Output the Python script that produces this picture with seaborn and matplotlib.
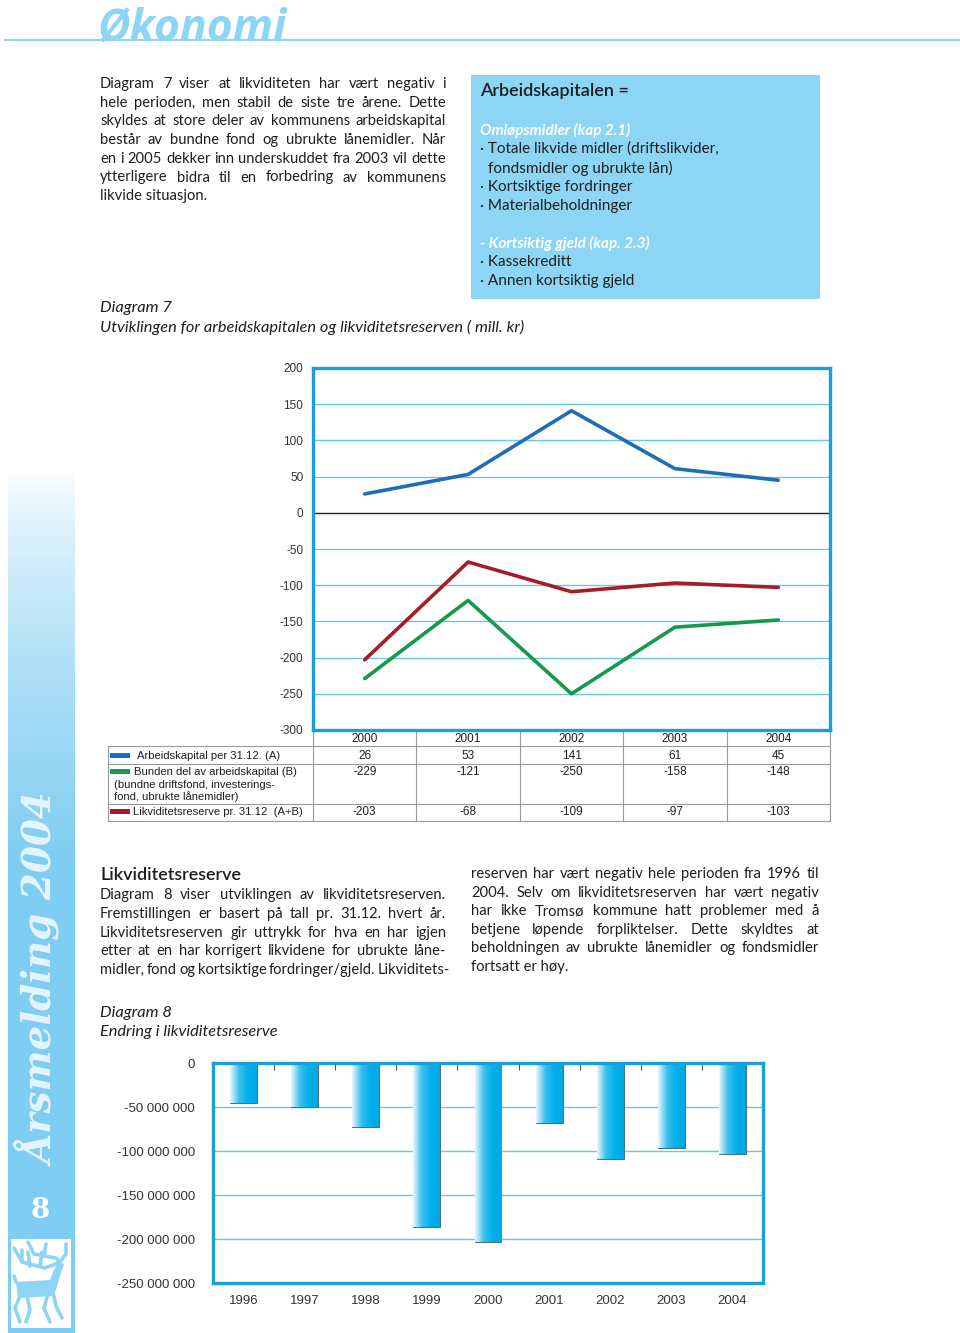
import matplotlib
matplotlib.use("Agg")
import matplotlib.pyplot as plt
import numpy as np
import pandas as pd
import seaborn as sns
from matplotlib.colors import LinearSegmentedColormap, to_rgb
from matplotlib.patches import Rectangle, Polygon
from matplotlib.ticker import FuncFormatter

# --- data --------------------------------------------------------------
years_7 = ["2000", "2001", "2002", "2003", "2004"]
arbeidskapital = [26, 53, 141, 61, 45]
bunden_del = [-229, -121, -250, -158, -148]
likviditetsreserve = [-203, -68, -109, -97, -103]
series_names = ["Arbeidskapital", "Bunden del", "Likviditetsreserve"]
series_colors = ["#1f6db3", "#17994b", "#a51d26"]
row_labels = [
    ["Arbeidskapital per 31.12. (A)"],
    ["Bunden del av arbeidskapital (B)", "(bundne driftsfond, investerings-", "fond, ubrukte lånemidler)"],
    ["Likviditetsreserve pr. 31.12  (A+B)"],
]

years_8 = ["1996", "1997", "1998", "1999", "2000", "2001", "2002", "2003", "2004"]
reserve_8 = [-46e6, -50e6, -73e6, -186e6, -203e6, -68e6, -109e6, -97e6, -103e6]

para_top = [
    "Diagram 7 viser at likviditeten har vært negativ i",
    "hele perioden, men stabil de siste tre årene. Dette",
    "skyldes at store deler av kommunens arbeidskapital",
    "består av bundne fond og ubrukte lånemidler. Når",
    "en i 2005 dekker inn underskuddet fra 2003 vil dette",
    "ytterligere bidra til en forbedring av kommunens",
    "likvide situasjon.",
]
para_left = [
    "Diagram 8 viser utviklingen av likviditetsreserven.",
    "Fremstillingen er basert på tall pr. 31.12. hvert år.",
    "Likviditetsreserven gir uttrykk for hva en har igjen",
    "etter at en har korrigert likvidene for ubrukte låne-",
    "midler, fond og kortsiktige fordringer/gjeld. Likviditets-",
]
para_right = [
    "reserven har vært negativ hele perioden fra 1996 til",
    "2004. Selv om likviditetsreserven har vært negativ",
    "har ikke Tromsø kommune hatt problemer med å",
    "betjene løpende forpliktelser. Dette skyldtes at",
    "beholdningen av ubrukte lånemidler og fondsmidler",
    "fortsatt er høy.",
]

W, H = 960, 1333
LIGHT = "#8dd5f5"
FRAME = "#1a9fd8"
GRID = "#6cc6e6"
TXT = "#1e1e1e"
NARROW = ["Liberation Sans", "DejaVu Sans"]
BODY = 10.6

sns.set_theme(style="white")
plt.rcParams["font.family"] = ["Lato", "DejaVu Sans"]
plt.rcParams["axes.unicode_minus"] = False

fig = plt.figure(figsize=(W / 100, H / 100), dpi=100)
page = fig.add_axes([0, 0, 1, 1])
page.set_xlim(0, W)
page.set_ylim(H, 0)
page.axis("off")


def rect(x0, y0, x1, y1):
    return [x0 / W, 1 - y1 / H, (x1 - x0) / W, (y1 - y0) / H]


def justified(lines, x0, x1, y0, dy, size, last_free=True):
    r = fig.canvas.get_renderer()
    for i, line in enumerate(lines):
        y = y0 + i * dy
        words = line.split()
        if (last_free and i == len(lines) - 1) or len(words) < 2:
            page.text(x0, y, line, fontsize=size, color=TXT, va="center")
            continue
        arts = [page.text(0, y, w, fontsize=size, color=TXT, va="center") for w in words]
        widths = [a.get_window_extent(r).width for a in arts]
        gap = max((x1 - x0 - sum(widths)) / (len(words) - 1), 2.5)
        x = x0
        for a, w in zip(arts, widths):
            a.set_x(x)
            x += w + gap


# --- header -------------------------------------------------------------
page.plot([5, W], [40, 40], color=LIGHT, lw=1.6, zorder=1)
page.text(98, 41, "Økonomi", fontsize=32, fontweight="bold", style="italic",
          color=LIGHT, family=["Open Sans", "DejaVu Sans"], va="baseline", zorder=2)

# --- side bar -------------------------------------------------------------
c = np.array(to_rgb("#7fcdf2"))
t = np.clip(np.linspace(0, 1, 400) * 2.2, 0, 1) ** 0.7
grad = np.ones((400, 1, 3)) * (1 - t[:, None, None]) + c * t[:, None, None]
page.imshow(grad, extent=(8, 75, H, 470), origin="upper", aspect="auto", zorder=0)
page.text(41, 980, "Årsmelding 2004", rotation=90, fontsize=28, fontweight="bold",
          style="italic", family="DejaVu Serif", color="#e4f5fd", ha="center", va="center")
page.text(40, 1210, "8", fontsize=20, fontweight="bold", family="DejaVu Serif",
          color="white", ha="center", va="center")
page.add_patch(Rectangle((11, 1239), 60, 89, facecolor="white", edgecolor="none"))
# simple reindeer mark
deer = "#8dd5f5"
page.add_patch(Polygon([(16, 1282), (50, 1280), (53, 1272), (58, 1262), (64, 1264),
                        (60, 1276), (54, 1296), (18, 1298)], closed=True,
                       facecolor=deer, edgecolor="none"))
for xs, ys in [([20, 15, 20], [1296, 1308, 1322]), ([27, 30, 26], [1296, 1310, 1322]),
               ([48, 44, 50], [1294, 1308, 1322]), ([53, 56, 62], [1292, 1306, 1318]),
               ([58, 45, 22, 14], [1263, 1268, 1262, 1248]), ([40, 42], [1266, 1252]),
               ([30, 28], [1266, 1252]), ([22, 22], [1262, 1250]),
               ([60, 56, 34, 28], [1262, 1258, 1254, 1242]), ([44, 46], [1256, 1244]),
               ([60, 66, 66], [1262, 1254, 1244]), ([16, 14], [1282, 1276])]:
    page.plot(xs, ys, color=deer, lw=2.6, solid_capstyle="round")

# --- text blocks ------------------------------------------------------------
justified(para_top, 100, 446, 84, 18.7, BODY)

page.add_patch(Rectangle((471, 75), 349, 224, facecolor=LIGHT, edgecolor="none"))
page.text(480, 91, "Arbeidskapitalen =", fontsize=13, fontweight="semibold", color=TXT, va="center")
box_lines = [
    (480, 130, "Omløpsmidler (kap 2.1)", True),
    (480, 149, "· Totale likvide midler (driftslikvider,", False),
    (488, 168, "fondsmidler og ubrukte lån)", False),
    (480, 187, "· Kortsiktige fordringer", False),
    (480, 206, "· Materialbeholdninger", False),
    (480, 243, "- Kortsiktig gjeld (kap. 2.3)", True),
    (480, 262, "· Kassekreditt", False),
    (480, 281, "· Annen kortsiktig gjeld", False),
]
for x, y, s, head in box_lines:
    page.text(x, y, s, fontsize=11, va="center",
              color="white" if head else TXT, style="italic" if head else "normal",
              fontweight="bold" if head else "normal")

page.text(100, 308, "Diagram 7", fontsize=11.8, style="italic", color=TXT, va="center")
page.text(100, 327, "Utviklingen for arbeidskapitalen og likviditetsreserven ( mill. kr)",
          fontsize=11.8, style="italic", color=TXT, va="center")

page.text(100, 875, "Likviditetsreserve", fontsize=13, fontweight="semibold", color=TXT, va="center")
justified(para_left, 100, 446, 895, 18.8, BODY, last_free=False)
justified(para_right, 471, 819, 874, 18.6, BODY)

page.text(100, 1013, "Diagram 8", fontsize=11.8, style="italic", color=TXT, va="center")
page.text(100, 1032, "Endring i likviditetsreserve", fontsize=11.8, style="italic",
          color=TXT, va="center")

# --- diagram 7: line chart ---------------------------------------------------
df = pd.DataFrame({
    "year": years_7 * 3,
    "value": arbeidskapital + bunden_del + likviditetsreserve,
    "series": np.repeat(series_names, len(years_7)),
})
ax = fig.add_axes(rect(313, 368, 830, 730))
ax.set_facecolor("white")
for v in range(-250, 200, 50):
    ax.axhline(v, color="#222222" if v == 0 else GRID, lw=1, zorder=1)
sns.lineplot(data=df, x="year", y="value", hue="series", palette=dict(zip(series_names, series_colors)),
             lw=2.6, legend=False, ax=ax, zorder=3)
ax.set_xlim(-0.5, 4.5)
ax.set_ylim(-300, 200)
ax.set_yticks(range(-300, 201, 50))
ax.set_xticks(np.arange(0.5, 4, 1))
ax.set_xticklabels([])
ax.tick_params(axis="x", direction="out", length=5, color="#555555", width=0.8)
ax.tick_params(axis="y", length=0, pad=7, labelsize=8.5, labelcolor="#333333")
for lab in ax.get_yticklabels():
    lab.set_family(NARROW)
ax.set_xlabel("")
ax.set_ylabel("")
for sp in ax.spines.values():
    sp.set_color(FRAME)
    sp.set_linewidth(2.4)

# --- table under diagram 7 ---------------------------------------------------
x0, x1 = 313, 830
cw = (x1 - x0) / len(years_7)
tc = "#9a9a9a"
for y in [746, 764, 804, 821]:
    page.plot([108, x1], [y, y], color=tc, lw=0.8)
page.plot([108, 108], [746, 821], color=tc, lw=0.8)
for i in range(len(years_7) + 1):
    page.plot([x0 + i * cw, x0 + i * cw], [731, 821], color=tc, lw=0.8)
row_y = [756, 772, 812]
for i, yr in enumerate(years_7):
    page.text(x0 + (i + 0.5) * cw, 739, yr, fontsize=8.5, family=NARROW, color=TXT,
              ha="center", va="center")
    for vals, y in zip([arbeidskapital, bunden_del, likviditetsreserve], row_y):
        page.text(x0 + (i + 0.5) * cw, y, str(vals[i]), fontsize=8.5, family=NARROW,
                  color=TXT, ha="center", va="center")
label_x = [137, 134, 133]
for lines, y, col, lx in zip(row_labels, row_y, series_colors, label_x):
    page.add_patch(Rectangle((110, y - 3), 20, 5, facecolor=col, edgecolor="none"))
    for j, s in enumerate(lines):
        page.text(lx if j == 0 else 114, y + j * 12.5, s, fontsize=8.1, family=NARROW,
                  color=TXT, va="center")

# --- diagram 8: bar chart -------------------------------------------------------
bx = fig.add_axes(rect(213, 1063, 763, 1283))
bx.set_facecolor("white")
for v in range(-200, 0, 50):
    bx.axhline(v * 1e6, color=GRID, lw=1, zorder=0)
sns.barplot(x=years_8, y=reserve_8, color="#00aee9", width=0.44, ax=bx,
            edgecolor="#3a5f73", linewidth=0.6, zorder=2)
bar_cmap = LinearSegmentedColormap.from_list("bar", ["#e6f6fd", "#3cc0ee", "#00b0ec", "#00a8e4"])
g = np.linspace(0, 1, 64)[None, :]
for p in bx.patches:
    bb = p.get_bbox()
    im = bx.imshow(g, cmap=bar_cmap, extent=[bb.x0, bb.x1, bb.y0, bb.y1],
                   aspect="auto", zorder=2.5)
    im.set_clip_path(p)
bx.set_xlim(-0.5, 8.5)
bx.set_ylim(-250e6, 0)
bx.set_yticks(np.arange(-250e6, 1, 50e6))
bx.yaxis.set_major_formatter(FuncFormatter(lambda v, _: f"{int(v):,}".replace(",", " ")))
bx.tick_params(axis="y", length=0, pad=13, labelsize=9.5, labelcolor="#333333")
bx.tick_params(axis="x", length=0, pad=9, labelsize=9.5, labelcolor="#333333")
bx.set_xticks(range(len(years_8)))
bx.set_xticklabels(years_8)
bx.set_xticks(np.arange(0.5, 8, 1), minor=True)
bx.tick_params(axis="x", which="minor", top=True, bottom=False, direction="in",
               length=5, color="#555555", width=0.8)
for lab in bx.get_yticklabels() + bx.get_xticklabels():
    lab.set_family(NARROW)
for sp in bx.spines.values():
    sp.set_color(FRAME)
    sp.set_linewidth(2.4)

fig.savefig("out.png", dpi=100, facecolor="white")
